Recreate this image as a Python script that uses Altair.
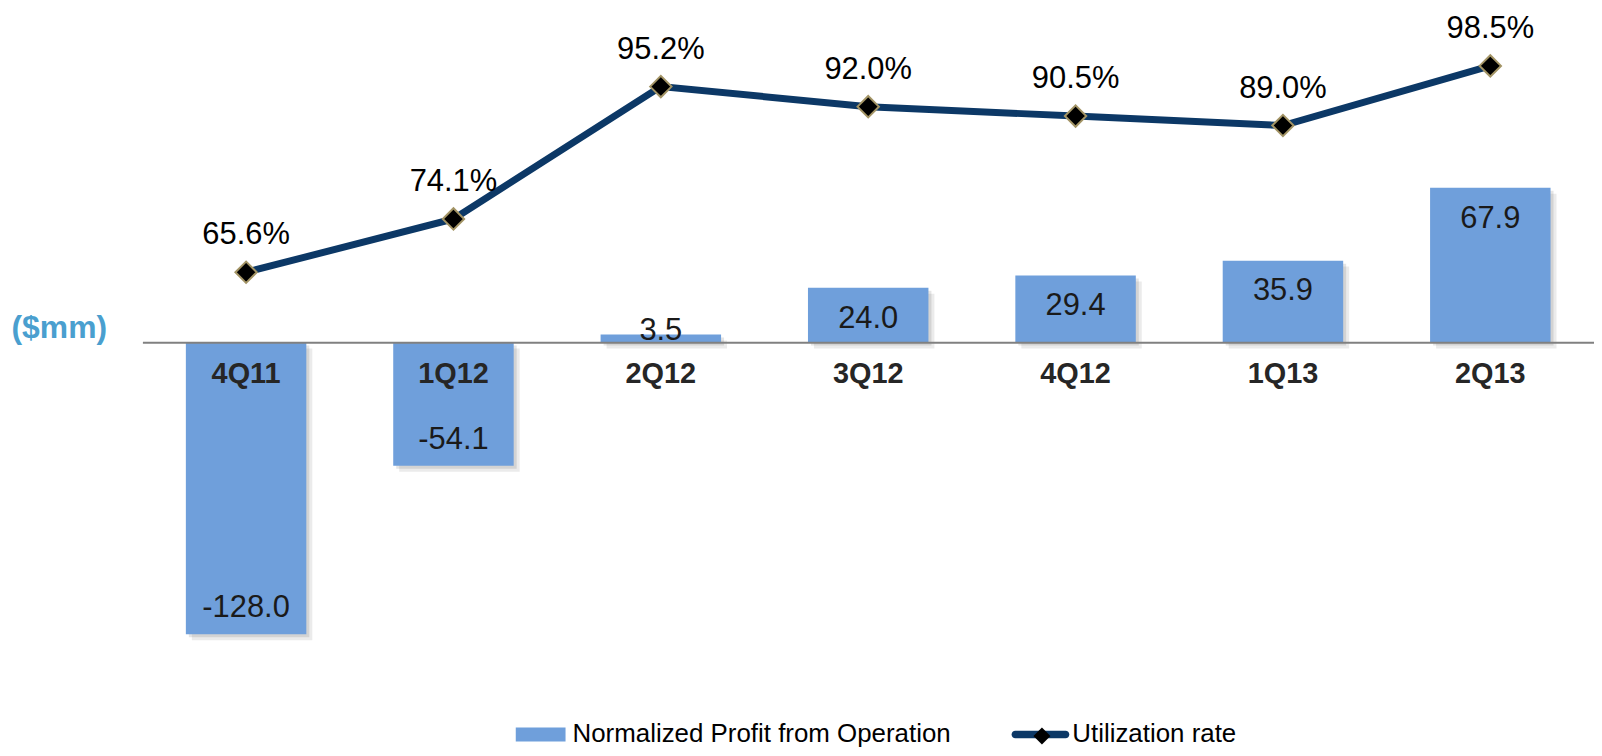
import altair as alt
import pandas as pd

quarters = ["4Q11", "1Q12", "2Q12", "3Q12", "4Q12", "1Q13", "2Q13"]
profit = [-128.0, -54.1, 3.5, 24.0, 29.4, 35.9, 67.9]
util = [65.6, 74.1, 95.2, 92.0, 90.5, 89.0, 98.5]
bar_series = "Normalized Profit from Operation"
line_series = "Utilization rate"

df = pd.DataFrame({"quarter": quarters, "profit": profit, "util": util,
                   "series": [bar_series] * len(quarters),
                   "series2": [line_series] * len(quarters),
                   "marker": ["diamond"] * len(quarters)})

FONT = "Liberation Sans"
BAR_COLOR = "#6f9fdb"
LINE_COLOR = "#0c3866"
W, H = 1458, 684
PAD_L = 135

x_enc = alt.X("quarter:N", sort=quarters,
              scale=alt.Scale(paddingInner=0, paddingOuter=0),
              axis=alt.Axis(orient="bottom", offset=-350, title=None, ticks=False,
                            domainColor="#808080", domainWidth=2, labelAngle=0,
                            labelFontSize=29, labelFontWeight="bold", labelColor="#262626",
                            labelFont=FONT, labelPadding=32, labelBaseline="middle",
                            grid=False, zindex=1))

y_bar = alt.Y("profit:Q",
              scale=alt.Scale(domain=[-152.7, 146.0], nice=False, zero=False),
              axis=alt.Axis(title="($mm)", labels=False, ticks=False, domain=False, grid=False,
                            titleAngle=0, titleX=-84, titleY=319, titleAlign="center",
                            titleBaseline="middle", titleFontSize=32, titleFontWeight="bold",
                            titleColor="#4a9fcf", titleFont=FONT))
y_line = alt.Y("util:Q", scale=alt.Scale(domain=[-1.10, 107.47], nice=False, zero=False),
               axis=None)

base = alt.Chart(df).encode(x=x_enc)

shadow1 = base.mark_bar(size=121, color="#000000", opacity=0.10, xOffset=3, yOffset=3).encode(y=y_bar)
shadow2 = base.mark_bar(size=121, color="#000000", opacity=0.08, xOffset=6, yOffset=6).encode(y=y_bar)

LEG_Y = 703
bars = base.mark_bar(size=121).encode(
    y=y_bar,
    fill=alt.Fill("series:N",
                  scale=alt.Scale(domain=[bar_series], range=[BAR_COLOR]),
                  legend=alt.Legend(title=None, orient="none", legendX=375, legendY=LEG_Y,
                                    symbolType="M-1,-0.28L1,-0.28L1,0.28L-1,0.28Z",
                                    symbolSize=2500, symbolStrokeWidth=0, labelLimit=0,
                                    labelFontSize=26, labelFont=FONT, labelColor="#000000",
                                    labelOffset=7, padding=0)))

lab_style = dict(fontSize=31, font=FONT, color="#1a1a1a", baseline="middle", align="center")
lab_expr = "replace(format(datum.profit, '.1f'), '\u2212', '-')"
lab_pos = base.mark_text(dy=31, **lab_style).encode(y=y_bar, text="plab:N").transform_calculate(
    plab=lab_expr).transform_filter("datum.profit >= 10")
lab_small = base.mark_text(dy=-3, **lab_style).encode(y=y_bar, text="plab:N").transform_calculate(
    plab=lab_expr).transform_filter("datum.profit >= 0 && datum.profit < 10")
lab_neg = base.mark_text(dy=-26, **lab_style).encode(y=y_bar, text="plab:N").transform_calculate(
    plab=lab_expr).transform_filter("datum.profit < 0")

left = alt.layer(shadow2, shadow1, bars, lab_pos, lab_small, lab_neg)

line_sym = ("M-0.87,-0.13L0.87,-0.13A0.13,0.13 0 0 1 0.87,0.13L-0.87,0.13"
            "A0.13,0.13 0 0 1 -0.87,-0.13Z")
LINE_LX = 873
LINE_LY = LEG_Y - 4
line = base.mark_line(strokeWidth=7).encode(
    y=y_line,
    stroke=alt.Stroke("series2:N",
                      scale=alt.Scale(domain=[line_series], range=[LINE_COLOR]),
                      legend=alt.Legend(title=None, orient="none", legendX=LINE_LX, legendY=LINE_LY,
                                        symbolType=line_sym, symbolSize=3364,
                                        symbolFillColor=LINE_COLOR, symbolStrokeWidth=0,
                                        labelFontSize=26, labelFont=FONT, labelColor="#000000",
                                        labelOffset=3, padding=0, labelLimit=0)))
pts = base.mark_point(filled=True, fill="#000000", stroke="#a39465",
                      strokeWidth=2, size=460, opacity=1).encode(
    y=y_line,
    shape=alt.Shape("marker:N", scale=alt.Scale(domain=["diamond"], range=["diamond"]),
                    legend=alt.Legend(title=None, orient="none", legendX=LINE_LX + 29 - 8.5,
                                      legendY=LINE_LY + 29 - 8.5,
                                      symbolSize=290, symbolFillColor="#000000",
                                      symbolStrokeColor="#a39465", symbolStrokeWidth=2,
                                      labelExpr="''", labelFontSize=1, padding=0)))
pct = base.mark_text(dy=-37, fontSize=31, font=FONT, color="#000000", baseline="middle",
                     align="center").encode(y=y_line, text="lab:N").transform_calculate(
    lab="format(datum.util, '.1f') + '%'")

right = alt.layer(line, pts, pct)

chart = alt.layer(left, right).resolve_scale(y="independent").properties(
    width=W, height=H,
    autosize=alt.AutoSizeParams(type="none"),
    padding={"left": PAD_L, "top": 0, "right": 0, "bottom": 56},
).configure_view(stroke=None)

chart.save("out.html", embed_options={"renderer": "svg", "actions": False})
